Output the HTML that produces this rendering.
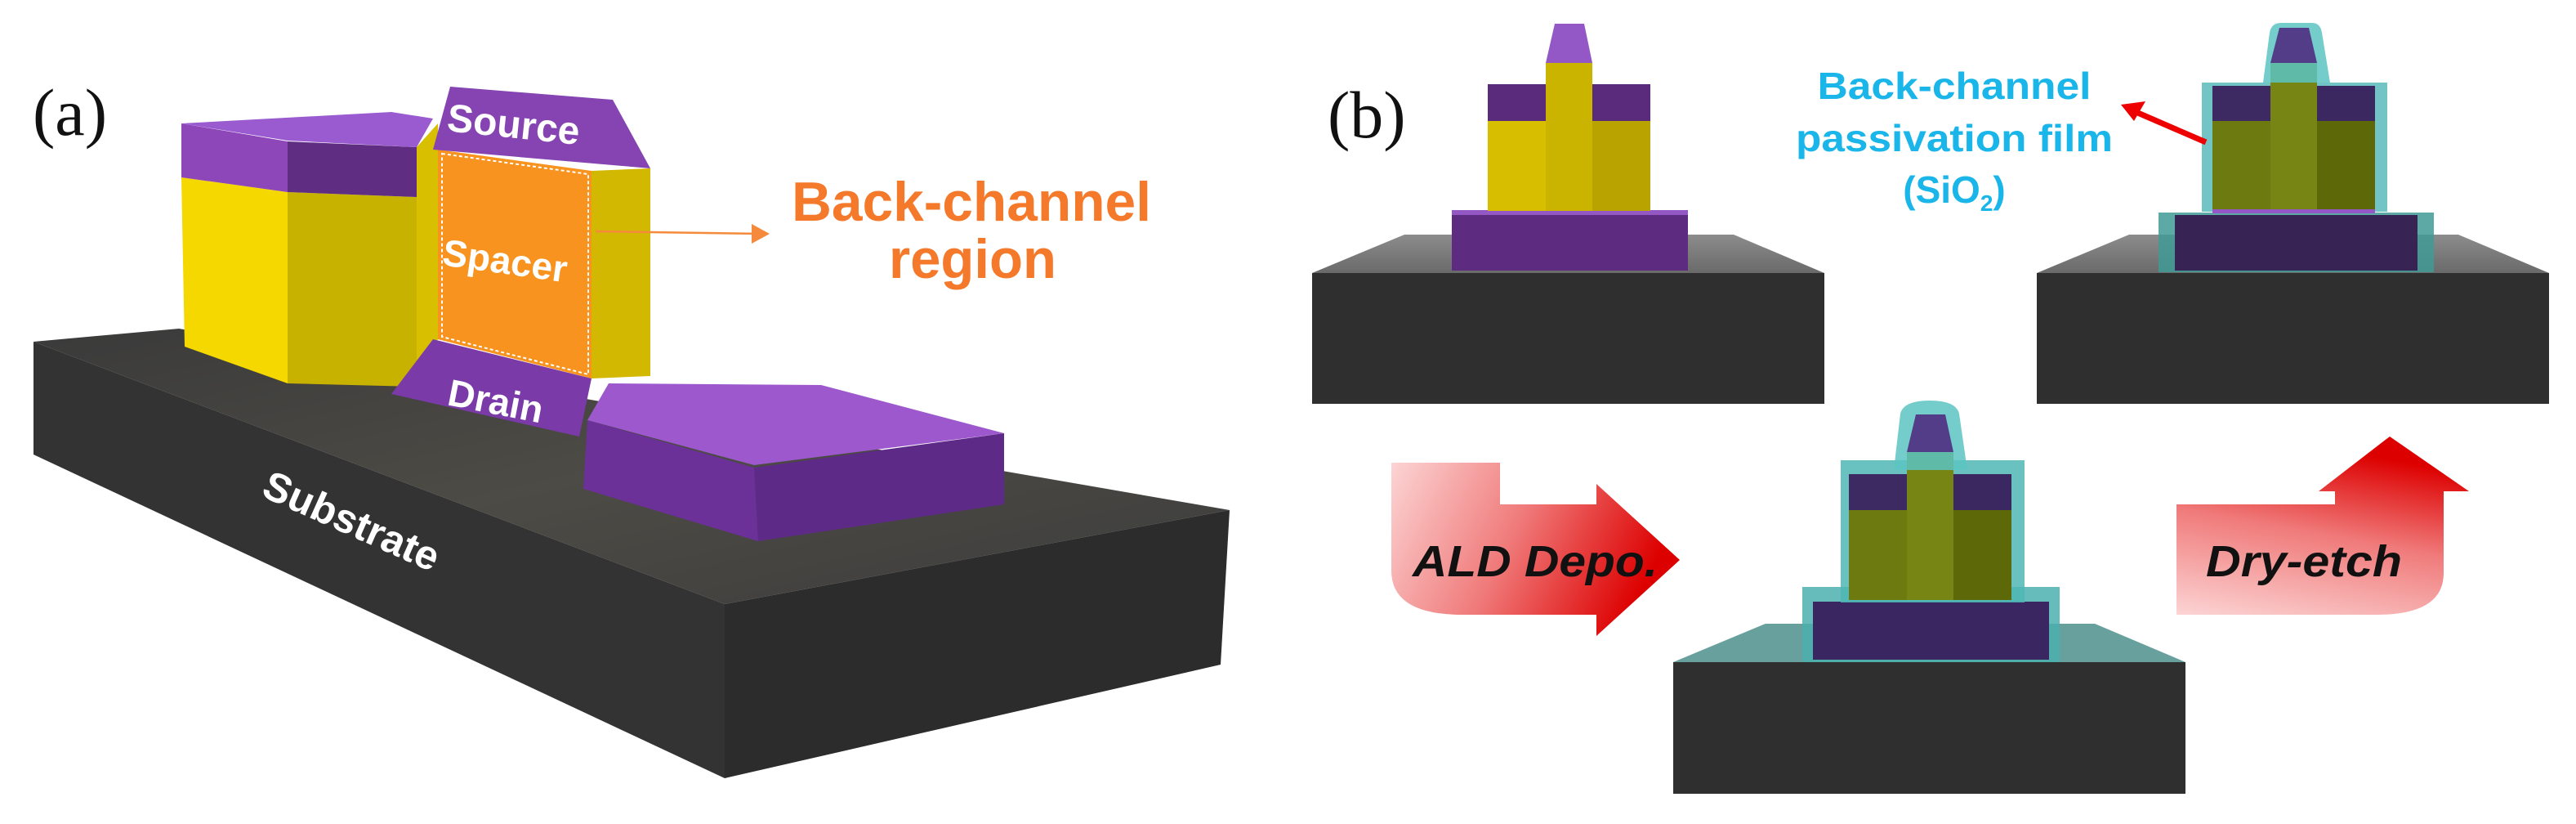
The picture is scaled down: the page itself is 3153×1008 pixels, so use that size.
<!DOCTYPE html>
<html><head><meta charset="utf-8"><style>
html,body{margin:0;padding:0;background:#fff}
svg{display:block}
text{font-family:"Liberation Sans",sans-serif;font-weight:bold}
</style></head><body>
<svg width="3153" height="1008" viewBox="0 0 3153 1008" xmlns="http://www.w3.org/2000/svg">
<defs>
<linearGradient id="subTop" x1="0" y1="0" x2="1" y2="1">
<stop offset="0" stop-color="#3a3a3a"/><stop offset="0.5" stop-color="#4d4b45"/><stop offset="1" stop-color="#3c3c3c"/></linearGradient>
<linearGradient id="baseTop" x1="0" y1="0" x2="0" y2="1">
<stop offset="0" stop-color="#8c8c8c"/><stop offset="1" stop-color="#6a6a6a"/></linearGradient>
<linearGradient id="ald" x1="0" y1="0" x2="1" y2="0.3">
<stop offset="0" stop-color="#fcd4d4"/><stop offset="0.5" stop-color="#f07a7a"/><stop offset="1" stop-color="#dd0000"/></linearGradient>
<linearGradient id="dry" x1="0" y1="1" x2="0.3" y2="0">
<stop offset="0" stop-color="#fcd4d4"/><stop offset="0.55" stop-color="#f07a7a"/><stop offset="1" stop-color="#dd0000"/></linearGradient>
<marker id="oa" markerWidth="8" markerHeight="8" refX="6" refY="4" orient="auto" markerUnits="userSpaceOnUse" viewBox="0 0 8 8"><path d="M0,0 L8,4 L0,8z" fill="#f58a3c"/></marker>
</defs>

<!-- ===== Panel (a) ===== -->
<text x="40" y="165" font-family="Liberation Serif" font-weight="normal" font-size="82" fill="#111" style="font-family:'Liberation Serif',serif;font-weight:normal">(a)</text>

<!-- substrate -->
<polygon points="41,418 219,402 1505,624 887,739" fill="url(#subTop)"/>
<polygon points="41,418 887,739 887,952 41,556" fill="#333333"/>
<polygon points="887,739 1505,624 1494,813 887,952" fill="#2c2c2c"/>
<text transform="translate(318,606) rotate(24)" font-size="50" fill="#fff">Substrate</text>

<!-- left block -->
<polygon points="222,217 352,235 352,469 226,424" fill="#f4d800"/>
<polygon points="352,235 510,241 510,473 352,469" fill="#c8b200"/>
<polygon points="222,151 352,173 352,235 222,217" fill="#8d47b8"/>
<polygon points="352,173 510,180 510,241 352,235" fill="#5f2e82"/>
<polygon points="222,151 479,137 530,145 510,180 352,172" fill="#9a5ad0"/>
<polygon points="510,180 536,151 536,415 510,473" fill="#d8c000"/>

<!-- source / spacer -->
<polygon points="724,209 796,206 796,460 724,463" fill="#d2b800"/>
<polygon points="536,183 724,209 724,463 536,415" fill="#f7931e"/>
<polygon points="541,188 720,213 720,458 541,412" fill="none" stroke="#fff" stroke-width="2" stroke-dasharray="4,3"/>
<polygon points="551,106 750,122 796,206 530,183" fill="#8544b2"/>
<text transform="translate(546,160) rotate(6)" font-size="48" fill="#fff">Source</text>
<text transform="translate(540,324) rotate(8)" font-size="46" fill="#fff">Spacer</text>

<!-- drain -->
<polygon points="530,415 724,463 709,534 479,482" fill="#7a3aa8"/>
<text transform="translate(546,495) rotate(11)" font-size="46" fill="#fff">Drain</text>
<!-- right pad -->
<polygon points="719,514 745,469 1005,471 1229,530 923,569" fill="#9c58cc"/>
<polygon points="719,514 923,572 928,662 714,598" fill="#6b3199"/>
<polygon points="923,572 1229,530 1229,617 928,662" fill="#5e2a88"/>

<!-- back-channel label -->
<line x1="729" y1="283" x2="934" y2="286" stroke="#f58a3c" stroke-width="2.5" marker-end="url(#oa)"/>
<polygon points="920,274 942,286 920,298" fill="#f58a3c"/>
<text x="969" y="270" font-size="68" fill="#f5792a" textLength="440" lengthAdjust="spacingAndGlyphs">Back-channel</text>
<text x="1088" y="340" font-size="68" fill="#f5792a" textLength="205" lengthAdjust="spacingAndGlyphs">region</text>

<!-- ===== Panel (b) ===== -->
<text x="1625" y="168" font-size="82" fill="#111" style="font-family:'Liberation Serif',serif;font-weight:normal">(b)</text>

<!-- panel 1 -->
<g id="p1">
<polygon points="1719,287 2122,287 2233,334 1606,334" fill="url(#baseTop)"/>
<rect x="1606" y="334" width="627" height="160" fill="#2f2f2f"/>
<rect x="1777" y="260" width="289" height="71" fill="#5d2c80"/>
<rect x="1777" y="257" width="289" height="6" fill="#9358c4"/>
<rect x="1821" y="148" width="71" height="110" fill="#d7bf00"/>
<rect x="1892" y="77" width="57" height="181" fill="#cbb400"/>
<rect x="1949" y="148" width="71" height="110" fill="#b9a300"/>
<rect x="1821" y="103" width="71" height="45" fill="#5a2b7d"/>
<rect x="1949" y="103" width="71" height="45" fill="#5a2b7d"/>
<polygon points="1903,29 1939,29 1949,77 1892,77" fill="#9458c6"/>
</g>

<!-- panel 2 (etched, sidewall spacers) -->
<g>
<polygon points="2606,287 3009,287 3120,334 2493,334" fill="url(#baseTop)"/>
<rect x="2493" y="334" width="627" height="160" fill="#2f2f2f"/>
<rect x="2642" y="260" width="337" height="73" fill="#3f9a96" opacity="0.85"/>
<rect x="2662" y="263" width="297" height="68" fill="#372455"/>
<rect x="2695" y="101" width="227" height="158" fill="#4fb7b5" opacity="0.8"/>
<rect x="2708" y="148" width="71" height="110" fill="#6d7a10"/>
<rect x="2779" y="77" width="57" height="181" fill="#768514"/>
<rect x="2836" y="148" width="71" height="110" fill="#5d6808"/>
<rect x="2708" y="105" width="71" height="43" fill="#3e2a62"/>
<rect x="2836" y="105" width="71" height="43" fill="#3b2860"/>
<path d="M2770,101 L2778,40 Q2780,28 2792,28 L2830,28 Q2840,28 2842,40 L2852,101 Z" fill="#5cc4c2" opacity="0.85"/>
<polygon points="2790,34 2826,34 2836,77 2779,77" fill="#533c88"/>
<rect x="2708" y="256" width="199" height="5" fill="#9458c6"/>
</g>
<!-- callout -->
<text x="2392" y="121" text-anchor="middle" font-size="46" fill="#1ab6ea" textLength="335" lengthAdjust="spacingAndGlyphs">Back-channel</text>
<text x="2392" y="185" text-anchor="middle" font-size="46" fill="#1ab6ea" textLength="388" lengthAdjust="spacingAndGlyphs">passivation film</text>
<text x="2392" y="248" text-anchor="middle" font-size="46" fill="#1ab6ea">(SiO<tspan font-size="28" dy="10">2</tspan><tspan dy="-10">)</tspan></text>
<line x1="2700" y1="174" x2="2612" y2="136" stroke="#ee0000" stroke-width="7"/>
<polygon points="2596,128 2626,124 2612,148" fill="#ee0000"/>

<!-- panel 3 (ALD coated) -->
<g>
<polygon points="2161,763 2564,763 2675,810 2048,810" fill="#6e8a88"/>
<polygon points="2161,763 2564,763 2675,810 2048,810" fill="#5ec8c6" opacity="0.35"/>
<rect x="2048" y="810" width="627" height="161" fill="#2f2f2f"/>
<rect x="2206" y="718" width="315" height="92" fill="#4bb0ae" opacity="0.85"/>
<rect x="2219" y="736" width="289" height="71" fill="#3a2660"/>
<rect x="2253" y="563" width="225" height="174" fill="#4fb7b5" opacity="0.85"/>
<rect x="2263" y="624" width="71" height="110" fill="#6d7a10"/>
<rect x="2334" y="553" width="57" height="181" fill="#768514"/>
<rect x="2391" y="624" width="71" height="110" fill="#5d6808"/>
<rect x="2263" y="580" width="71" height="44" fill="#3e2a62"/>
<rect x="2391" y="580" width="71" height="44" fill="#3b2860"/>
<path d="M2318,575 L2326,506 Q2330,490 2362,490 Q2394,490 2398,506 L2408,575 Z" fill="#5cc4c2" opacity="0.85"/>
<polygon points="2345,507 2381,507 2391,553 2334,553" fill="#533c88"/>
</g>

<!-- ALD arrow -->
<path d="M1703,566 L1836,566 L1836,617 L1954,617 L1954,592 L2056,685 L1954,778 L1954,752 L1790,752 Q1703,752 1703,698 Z" fill="url(#ald)"/>
<text x="1729" y="705" font-size="54" font-style="italic" fill="#111" textLength="300" lengthAdjust="spacingAndGlyphs">ALD Depo.</text>

<!-- Dry-etch arrow -->
<path d="M2664,752 L2664,617 L2858,617 L2858,601 L2838,601 L2925,534 L3022,601 L2991,601 L2991,701 Q2991,752 2909,752 Z" fill="url(#dry)"/>
<text x="2700" y="705" font-size="54" font-style="italic" fill="#111" textLength="240" lengthAdjust="spacingAndGlyphs">Dry-etch</text>
</svg>
</body></html>
